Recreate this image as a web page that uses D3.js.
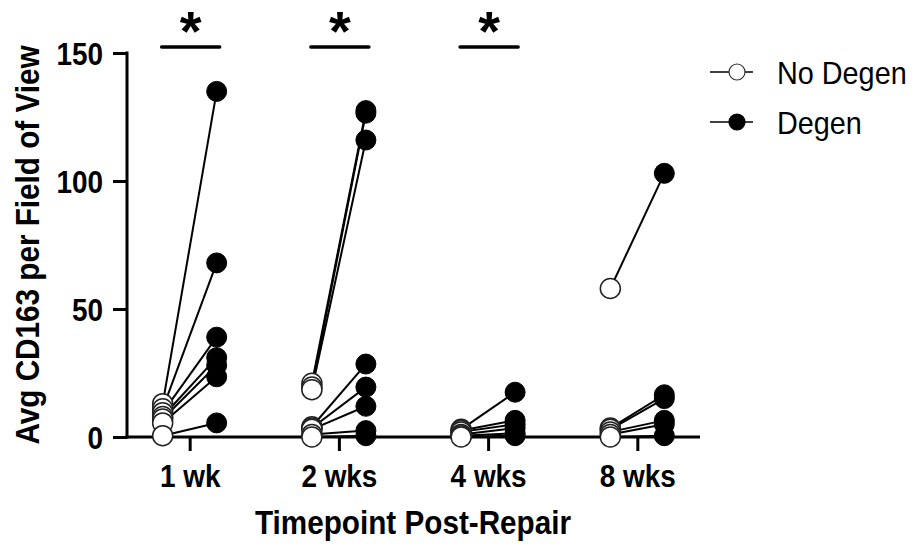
<!DOCTYPE html>
<html>
<head>
<meta charset="utf-8">
<script src="https://cdn.jsdelivr.net/npm/d3@7"></script>
<style>
  html, body { margin: 0; padding: 0; background: #fff; }
  svg { display: block; font-family: "Liberation Sans", Arial, Helvetica, sans-serif; }
</style>
</head>
<body>
<svg id="chart" width="921" height="544"></svg>
<script>
// Timepoints after repair
const timepoints = ["1 wk", "2 wks", "4 wks", "8 wks"];

// Paired samples per timepoint: index i of noDegen pairs with index i of degen
const noDegen = [
  [13, 11, 9.5, 8, 7, 5.5, 0.5],
  [21, 19.5, 18.5, 4, 3.5, 3, 1, 0],
  [3, 2.5, 2, 1, 0.5, 0],
  [58, 3.5, 3, 2, 1, 0]
];
const degen = [
  [135, 68, 39, 31, 28, 23.5, 5.5],
  [127.5, 126.5, 116, 28.5, 19.5, 12, 2.5, 0.5],
  [17.5, 6.5, 5, 3.5, 1.5, 0.5],
  [103, 16.5, 15, 6.5, 5, 0.5]
];

// Timepoints marked significant
const significant = ["1 wk", "2 wks", "4 wks"];

const yTicks = [0, 50, 100, 150];
const seriesNames = ["No Degen", "Degen"];

// Slightly condensed lettering
const squeeze = 0.9;

const svg = d3.select("#chart");

const x = d3.scalePoint().domain(timepoints).range([127, 700]).padding(0.42);
const y = d3.scaleLinear().domain([0, 150]).range([437, 53]);
const offset = 27;
const r = 10;

// Build pairs
const pairs = [];
timepoints.forEach((t, i) => {
  noDegen[i].forEach((v, j) => pairs.push({ t, a: v, b: degen[i][j] }));
});

// Axes
const yAxis = d3.axisLeft(y).tickValues(yTicks).tickSize(14).tickPadding(8).tickSizeOuter(0);
const gy = svg.append("g").attr("transform", "translate(127,0)").call(yAxis);
gy.select(".domain").attr("stroke", "#000").attr("stroke-width", 3).attr("d", `M0,${y(150) - 1.5}V${y(0) + 1.5}`);
gy.selectAll(".tick line").attr("stroke", "#000").attr("stroke-width", 3);
gy.selectAll(".tick text").attr("fill", "#000").style("font-size", "31px").style("font-weight", "bold")
  .attr("x", -24 / squeeze).attr("dy", "0.36em").attr("transform", `scale(${squeeze},1)`);

const xAxis = d3.axisBottom(x).tickSize(14).tickPadding(14).tickSizeOuter(0);
const gx = svg.append("g").attr("transform", `translate(0,${y(0)})`).call(xAxis);
gx.select(".domain").attr("stroke", "#000").attr("stroke-width", 3).attr("d", "M125.5,0H700");
gx.selectAll(".tick line").attr("stroke", "#000").attr("stroke-width", 3);
gx.selectAll(".tick text").attr("fill", "#000").style("font-size", "31px").style("font-weight", "bold")
  .attr("transform", `scale(${squeeze},1)`);

// Axis titles
svg.append("text")
  .attr("transform", `translate(413,534) scale(${squeeze},1)`)
  .attr("text-anchor", "middle")
  .style("font-size", "33px").style("font-weight", "bold")
  .text("Timepoint Post-Repair");

svg.append("text")
  .attr("transform", `translate(39,245) rotate(-90) scale(${squeeze},1)`)
  .attr("text-anchor", "middle")
  .style("font-size", "33px").style("font-weight", "bold")
  .text("Avg CD163 per Field of View");

// Connecting lines
svg.append("g").selectAll("line").data(pairs).join("line")
  .attr("x1", d => x(d.t) - offset).attr("y1", d => y(d.a))
  .attr("x2", d => x(d.t) + offset).attr("y2", d => y(d.b))
  .attr("stroke", "#000").attr("stroke-width", 2);

// Points
svg.append("g").selectAll("circle").data(pairs).join("circle")
  .attr("cx", d => x(d.t) - offset).attr("cy", d => y(d.a)).attr("r", r)
  .attr("fill", "#fff").attr("stroke", "#222").attr("stroke-width", 1.5);

svg.append("g").selectAll("circle").data(pairs).join("circle")
  .attr("cx", d => x(d.t) + offset).attr("cy", d => y(d.b)).attr("r", r)
  .attr("fill", "#000").attr("stroke", "#000").attr("stroke-width", 1);

// Significance bars
const sig = svg.append("g").selectAll("g").data(significant).join("g");
sig.append("line")
  .attr("x1", d => x(d) - 28).attr("x2", d => x(d) + 30)
  .attr("y1", 47).attr("y2", 47)
  .attr("stroke", "#000").attr("stroke-width", 3.5).attr("stroke-linecap", "round");
sig.append("text")
  .attr("x", d => x(d) + 1).attr("y", 50)
  .attr("text-anchor", "middle")
  .style("font-size", "56px").style("font-weight", "bold")
  .text("*");

// Legend
const legend = svg.append("g").selectAll("g").data(seriesNames).join("g")
  .attr("transform", (d, i) => `translate(0,${72 + i * 50})`);
legend.append("line").attr("x1", 710).attr("x2", 753).attr("y1", 0).attr("y2", 0)
  .attr("stroke", "#000").attr("stroke-width", 1.5);
legend.append("circle").attr("cx", 737).attr("cy", 0).attr("r", 8)
  .attr("fill", (d, i) => i === 0 ? "#fff" : "#000")
  .attr("stroke", (d, i) => i === 0 ? "#333" : "#000").attr("stroke-width", 1.2);
legend.append("text")
  .attr("transform", `translate(777,0) scale(${squeeze},1)`)
  .attr("dy", "0.36em")
  .style("font-size", "32px")
  .text(d => d);
</script>
</body>
</html>
